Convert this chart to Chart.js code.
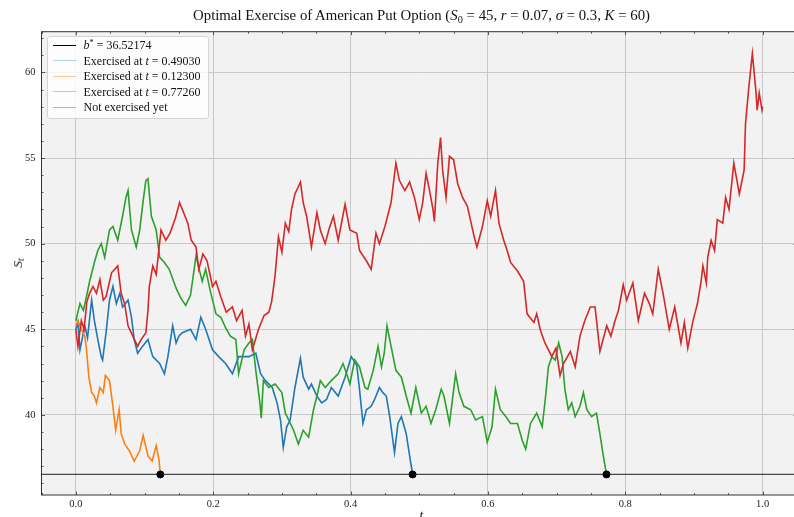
<!DOCTYPE html>
<html>
<head>
<meta charset="utf-8">
<script src="https://cdn.jsdelivr.net/npm/chart.js@4.4.1/dist/chart.umd.min.js"></script>
<style>
html, body { margin: 0; padding: 0; overflow: hidden; background: #fff; width: 794px; height: 517px; }
#wrap { position: absolute; left: 0; top: 0; width: 802px; height: 517px; }
.txt { position: absolute; font-family: 'Liberation Serif', serif; color: #111; white-space: nowrap; }
#title { left: 421.5px; top: 7px; transform: translateX(-50%); font-size: 14.8px; }
#ylab { left: 18px; top: 263px; transform: translate(-50%, -50%) rotate(-90deg); font-size: 13.5px; }
#xlab { left: 421.5px; top: 507px; transform: translateX(-50%); font-size: 13.5px; }
#legend { left: 47px; top: 36px; width: 160px; height: 81px; background: rgba(255,255,255,0.8);
          border: 1px solid #d4d4d4; border-radius: 3px; font-size: 12px; }
.row { position: absolute; left: 0; right: 0; height: 14px; line-height: 14px; }
.swatch { position: absolute; left: 4.5px; width: 23.5px; top: 6.5px; border-top: 1.3px solid; }
.label { position: absolute; left: 35.5px; top: 0; }
sub { font-size: 70%; vertical-align: -0.25em; line-height: 0; }
sup { font-size: 70%; vertical-align: 0.45em; line-height: 0; }
</style>
</head>
<body>
<div id="wrap"><canvas id="myChart"></canvas></div>
<div class="txt" id="title">Optimal Exercise of American Put Option (<i>S</i><sub>0</sub> = 45, <i>r</i> = 0.07, <i>σ</i> = 0.3, <i>K</i> = 60)</div>
<div class="txt" id="ylab"><i>S</i><sub><i>t</i></sub></div>
<div class="txt" id="xlab"><i>t</i></div>
<div class="txt" id="legend"></div>
<script>
// optimal exercise boundary and exercise times (blue, orange, green paths)
const bStar = 36.52174;
const exerciseTimes = [0.4903, 0.1230, 0.7726];

const xTicks = [0, 0.2, 0.4, 0.6, 0.8, 1.0];
const xTickLabels = ["0.0", "0.2", "0.4", "0.6", "0.8", "1.0"];
const yTicks = [40, 45, 50, 55, 60];
const yTickLabels = ["40", "45", "50", "55", "60"];

// path exercised at t = 0.49030
const tBlue = [0, 0.003, 0.006, 0.010, 0.013, 0.017, 0.023, 0.027, 0.032, 0.037, 0.039, 0.044, 0.049, 0.054,
  0.059, 0.064, 0.068, 0.076, 0.081, 0.085, 0.090, 0.097, 0.105, 0.112, 0.122, 0.129, 0.134, 0.141, 0.146,
  0.150, 0.155, 0.167, 0.175, 0.182, 0.189, 0.199, 0.208, 0.218, 0.228, 0.237, 0.245, 0.252, 0.262, 0.269,
  0.276, 0.286, 0.293, 0.298, 0.302, 0.307, 0.312, 0.319, 0.327, 0.331, 0.339, 0.343, 0.351, 0.358, 0.365,
  0.372, 0.382, 0.392, 0.401, 0.409, 0.413, 0.418, 0.423, 0.430, 0.435, 0.442, 0.447, 0.452, 0.457, 0.464,
  0.469, 0.474, 0.481, 0.486];
const sBlue = [45.0, 45.4, 43.8, 44.6, 45.2, 44.5, 46.7, 45.5, 44.4, 43.4, 43.2, 44.8, 46.7, 47.5,
  46.5, 47.1, 46.3, 46.7, 45.7, 44.4, 43.6, 44.0, 44.4, 43.4, 43.0, 42.4, 43.4, 45.2, 44.2,
  44.6, 44.8, 45.0, 44.4, 45.7, 45.0, 43.8, 43.4, 43.0, 42.4, 43.4, 43.4, 43.4, 43.6, 42.4,
  42.0, 41.6, 40.7, 39.7, 38.1, 39.3, 39.7, 41.6, 43.3, 42.2, 41.5, 41.8, 41.1, 40.7, 40.9,
  41.6, 41.1, 42.2, 43.4, 42.9, 41.5, 39.5, 40.3, 40.5, 40.9, 41.6, 41.3, 41.1, 39.9, 37.8,
  39.5, 39.9, 38.9, 37.6];

// path exercised at t = 0.12300
const tOrange = [0, 0.003, 0.008, 0.013, 0.015, 0.019, 0.023, 0.027, 0.030, 0.035, 0.040, 0.043, 0.049,
  0.054, 0.058, 0.063, 0.066, 0.071, 0.078, 0.085, 0.093, 0.098, 0.105, 0.111, 0.117, 0.121];
const sOrange = [45.2, 45.5, 45.0, 44.6, 44.0, 42.2, 41.3, 41.1, 40.7, 41.6, 41.3, 42.3, 42.0,
  40.5, 39.1, 40.3, 38.9, 38.3, 37.9, 37.3, 37.9, 38.8, 37.6, 37.3, 38.2, 37.4];

// path exercised at t = 0.77260
const tGreen = [0, 0.003, 0.006, 0.011, 0.016, 0.020, 0.027, 0.032, 0.037, 0.042, 0.049, 0.054, 0.061,
  0.068, 0.073, 0.076, 0.081, 0.088, 0.093, 0.098, 0.102, 0.105, 0.110, 0.117, 0.122, 0.129, 0.136, 0.146,
  0.153, 0.160, 0.167, 0.175, 0.179, 0.184, 0.189, 0.196, 0.204, 0.211, 0.218, 0.225, 0.233, 0.237, 0.245,
  0.252, 0.257, 0.262, 0.268, 0.270, 0.273, 0.281, 0.290, 0.300, 0.305, 0.310, 0.317, 0.324, 0.331, 0.339,
  0.346, 0.351, 0.356, 0.363, 0.372, 0.382, 0.389, 0.396,
  0.399, 0.406, 0.413, 0.421, 0.425, 0.433, 0.440, 0.445, 0.449, 0.453, 0.459, 0.466, 0.474, 0.481, 0.488,
  0.495, 0.503, 0.510, 0.517, 0.524, 0.532, 0.536, 0.544, 0.553, 0.558, 0.565, 0.575, 0.582, 0.592, 0.599,
  0.606, 0.611, 0.618, 0.626, 0.633, 0.643, 0.650, 0.655, 0.662, 0.671, 0.679, 0.684, 0.688, 0.693, 0.698,
  0.703, 0.708, 0.712, 0.717, 0.722, 0.727, 0.734, 0.739, 0.744, 0.751, 0.758, 0.763, 0.768];
const sGreen = [45.5, 46.0, 46.5, 46.1, 47.0, 47.8, 48.9, 49.6, 50.0, 49.2, 50.8, 51.0, 50.2,
  51.6, 52.7, 53.1, 50.8, 49.8, 50.8, 52.5, 53.7, 53.8, 51.6, 50.8, 49.2, 48.9, 48.5, 47.4,
  46.8, 46.4, 47.0, 49.3, 48.6, 47.8, 48.5, 47.2, 45.9, 45.7, 45.1, 44.6, 44.4, 42.4, 43.8,
  44.2, 44.4, 42.6, 40.7, 39.8, 42.0, 41.6, 41.8, 41.3, 40.1, 39.7, 39.1, 38.3, 39.1, 38.7,
  40.3, 41.1, 42.0, 41.6, 42.0, 42.4, 43.0, 42.2,
  41.8, 43.2, 42.8, 41.6, 41.5, 42.6, 44.0, 42.8, 43.6, 45.2, 44.0, 42.6, 42.2, 41.1, 40.1,
  41.6, 40.1, 40.5, 39.5, 40.3, 41.5, 41.1, 39.5, 42.4, 41.3, 40.5, 40.3, 39.7, 39.9, 38.4,
  39.3, 41.5, 40.3, 39.9, 39.5, 39.5, 38.5, 38.0, 39.5, 40.1, 39.3, 41.1, 42.8, 43.4, 43.2,
  44.2, 43.4, 41.5, 40.3, 40.7, 39.9, 40.5, 41.3, 40.3, 39.9, 40.1, 38.9, 37.6];

// path not exercised yet
const tRed = [0, 0.003, 0.008, 0.012, 0.016, 0.020, 0.025, 0.030, 0.035, 0.040, 0.044, 0.052, 0.061, 0.066,
  0.071, 0.076, 0.083, 0.090, 0.095, 0.102, 0.105, 0.107, 0.112, 0.117, 0.124, 0.131, 0.137, 0.145, 0.151,
  0.155, 0.163, 0.168, 0.175, 0.179, 0.185, 0.191, 0.199, 0.204, 0.211, 0.219, 0.228, 0.234, 0.242, 0.247,
  0.252, 0.257, 0.266, 0.274, 0.281, 0.285, 0.290, 0.295, 0.300, 0.305, 0.310, 0.314, 0.319, 0.327, 0.331,
  0.336, 0.340, 0.343, 0.351, 0.356, 0.363, 0.369, 0.375, 0.382, 0.392, 0.399, 0.409, 0.413, 0.423, 0.430,
  0.437, 0.442, 0.450, 0.459, 0.466, 0.471, 0.479, 0.486, 0.493, 0.500, 0.505, 0.510, 0.515, 0.520, 0.522,
  0.527, 0.531, 0.534, 0.539, 0.544, 0.550, 0.556, 0.563, 0.570, 0.580, 0.584, 0.592, 0.599, 0.604, 0.611,
  0.616, 0.623, 0.628, 0.633, 0.643, 0.652, 0.657, 0.667, 0.671, 0.676, 0.683, 0.693, 0.699, 0.705, 0.710,
  0.720, 0.727, 0.734, 0.741, 0.749, 0.756, 0.763, 0.773, 0.779, 0.785, 0.790, 0.797, 0.802, 0.811, 0.819,
  0.828, 0.835, 0.840, 0.848, 0.855, 0.864, 0.872, 0.881, 0.886, 0.891, 0.898, 0.905, 0.910, 0.913, 0.918,
  0.920, 0.925, 0.930, 0.934, 0.942, 0.946, 0.951, 0.958, 0.966, 0.973, 0.975, 0.980, 0.985, 0.990, 0.992,
  0.995, 0.999, 1.000];
const sRed = [45.0, 44.0, 45.5, 45.0, 46.6, 47.1, 47.5, 47.1, 47.9, 46.7, 46.9, 48.3, 48.7, 47.1,
  46.5, 45.2, 44.6, 44.0, 44.4, 44.8, 46.1, 47.5, 48.7, 48.2, 50.8, 50.2, 50.6, 51.5, 52.4,
  52.0, 51.2, 50.2, 49.8, 48.5, 49.4, 49.0, 47.5, 47.8, 46.9, 46.0, 46.3, 45.5, 46.1, 44.6,
  45.3, 43.8, 45.0, 45.8, 46.0, 46.6, 48.1, 50.4, 49.5, 51.2, 50.7, 52.0, 52.9, 53.6, 52.4,
  51.6, 50.6, 49.8, 51.8, 50.8, 50.0, 50.9, 51.6, 50.2, 52.3, 50.8, 50.6, 49.6, 49.0, 48.5,
  50.6, 50.0, 51.0, 52.4, 54.7, 53.7, 53.1, 53.6, 52.7, 51.4, 52.4, 54.1, 53.1, 52.0, 51.3,
  54.7, 56.2, 54.3, 52.7, 55.1, 54.9, 53.5, 52.7, 52.2, 50.4, 49.8, 51.0, 52.5, 51.6, 53.1,
  51.2, 50.2, 49.6, 48.9, 48.4, 47.8, 45.9, 45.4, 45.9, 45.0, 44.2, 43.4, 43.9, 42.3, 43.0,
  43.7, 42.8, 44.6, 45.5, 46.3, 46.3, 43.7, 45.2, 44.6, 45.5, 46.1, 47.6, 46.7, 47.7, 45.5,
  47.1, 46.5, 45.9, 48.5, 47.1, 45.0, 46.3, 44.2, 45.4, 43.9, 45.4, 46.5, 47.7, 48.7, 47.7,
  49.2, 50.2, 49.6, 51.4, 51.2, 52.7, 52.0, 54.7, 52.9, 54.3, 57.0, 59.2, 61.1, 59.0, 57.8,
  58.8, 57.8, 58.0];

const colores = ["#1f77b4", "#ff7f0e", "#2ca02c", "#d62728"];
const palidos = ["rgba(31,119,180,0.35)", "rgba(255,127,14,0.45)", "rgba(44,160,44,0.4)", "rgba(214,39,40,0.45)"];

const xMin = -0.05, xMax = 1.05;
const yMin = 35.32, yMax = 62.38;

function puntos(ts, ss, fin) {
    const pts = ts.map((t, i) => ({ x: t, y: ss[i] }));
    if (fin !== undefined) pts.push({ x: fin, y: bStar });
    return pts;
}

// legend
const leyenda = [
    { color: "#000", html: "<i>b</i><sup>*</sup> = " + bStar.toFixed(5) },
    { color: palidos[0], html: "Exercised at <i>t</i> = " + exerciseTimes[0].toFixed(5) },
    { color: palidos[1], html: "Exercised at <i>t</i> = " + exerciseTimes[1].toFixed(5) },
    { color: palidos[2], html: "Exercised at <i>t</i> = " + exerciseTimes[2].toFixed(5) },
    { color: palidos[3], html: "Not exercised yet" }
];
let html = "";
leyenda.forEach((item, i) => {
    html += `<div class="row" style="top:${1 + i * 15.6}px">
      <span class="swatch" style="border-color:${item.color}"></span>
      <span class="label">${item.html}</span></div>`;
});
document.getElementById("legend").innerHTML = html;

// plot background, frame and inward ticks
const marco = {
    id: "marco",
    beforeDraw(chart) {
        const a = chart.chartArea, ctx = chart.ctx;
        ctx.save();
        ctx.fillStyle = "#f2f2f2";
        ctx.fillRect(a.left, a.top, a.right - a.left, a.bottom - a.top);
        ctx.restore();
    },
    afterDraw(chart) {
        const a = chart.chartArea, ctx = chart.ctx;
        const x = chart.scales.x, y = chart.scales.y;
        ctx.save();
        ctx.strokeStyle = "#333";
        ctx.lineWidth = 0.8;
        ctx.beginPath();
        for (let i = -1; i <= 21; i++) {
            const px = Math.round(x.getPixelForValue(i * 0.05)) + 0.5;
            const len = (i % 4 === 0) ? 3.5 : 2;
            ctx.moveTo(px, a.bottom); ctx.lineTo(px, a.bottom - len);
            ctx.moveTo(px, a.top); ctx.lineTo(px, a.top + len);
        }
        for (let v = Math.ceil(yMin); v <= Math.floor(yMax); v++) {
            const py = Math.round(y.getPixelForValue(v)) + 0.5;
            const len = (v % 5 === 0) ? 3.5 : 2;
            ctx.moveTo(a.left, py); ctx.lineTo(a.left + len, py);
            ctx.moveTo(a.right, py); ctx.lineTo(a.right - len, py);
        }
        ctx.stroke();
        ctx.lineWidth = 1;
        ctx.strokeRect(a.left, a.top, a.right - a.left, a.bottom - a.top);
        ctx.restore();
    }
};

Chart.defaults.font.family = "'Liberation Serif', serif";
Chart.defaults.font.size = 10.5;
Chart.defaults.color = "#222";

const config = {
    type: "scatter",
    data: {
        datasets: [
            { data: exerciseTimes.map(t => ({ x: t, y: bStar })), showLine: false, pointRadius: 3.5,
              backgroundColor: "#000", borderColor: "#000", order: 0 },
            { data: puntos(tRed, sRed), borderColor: colores[3], order: 1 },
            { data: puntos(tGreen, sGreen, exerciseTimes[2]), borderColor: colores[2], order: 2 },
            { data: puntos(tOrange, sOrange, exerciseTimes[1]), borderColor: colores[1], order: 3 },
            { data: puntos(tBlue, sBlue, exerciseTimes[0]), borderColor: colores[0], order: 4 },
            { data: [{ x: xMin, y: bStar }, { x: xMax, y: bStar }], borderColor: "rgba(0,0,0,0.7)",
              borderWidth: 1.4, order: 5 }
        ]
    },
    options: {
        responsive: true,
        maintainAspectRatio: false,
        animation: false,
        layout: { padding: { top: 31.7, left: 0, right: 0, bottom: 0 } },
        elements: {
            line: { borderWidth: 1.6, tension: 0 },
            point: { radius: 0 }
        },
        datasets: { scatter: { showLine: true } },
        plugins: { legend: { display: false }, tooltip: { enabled: false } },
        scales: {
            x: {
                type: "linear", min: xMin, max: xMax,
                afterBuildTicks: s => { s.ticks = xTicks.map(v => ({ value: v })); },
                afterFit: s => { s.height = 22; },
                ticks: { padding: 3, maxRotation: 0, callback: (v, i) => xTickLabels[i] },
                grid: { color: "#c8c8c8", drawTicks: false },
                border: { display: false }
            },
            y: {
                type: "linear", min: yMin, max: yMax,
                afterBuildTicks: s => { s.ticks = yTicks.map(v => ({ value: v })); },
                afterFit: s => { s.width = 41.5; },
                ticks: { padding: 6, callback: (v, i) => yTickLabels[i] },
                grid: { color: "#c8c8c8", drawTicks: false },
                border: { display: false }
            }
        }
    },
    plugins: [marco]
};

const chart = new Chart(document.getElementById("myChart"), config);
</script>
</body>
</html>
